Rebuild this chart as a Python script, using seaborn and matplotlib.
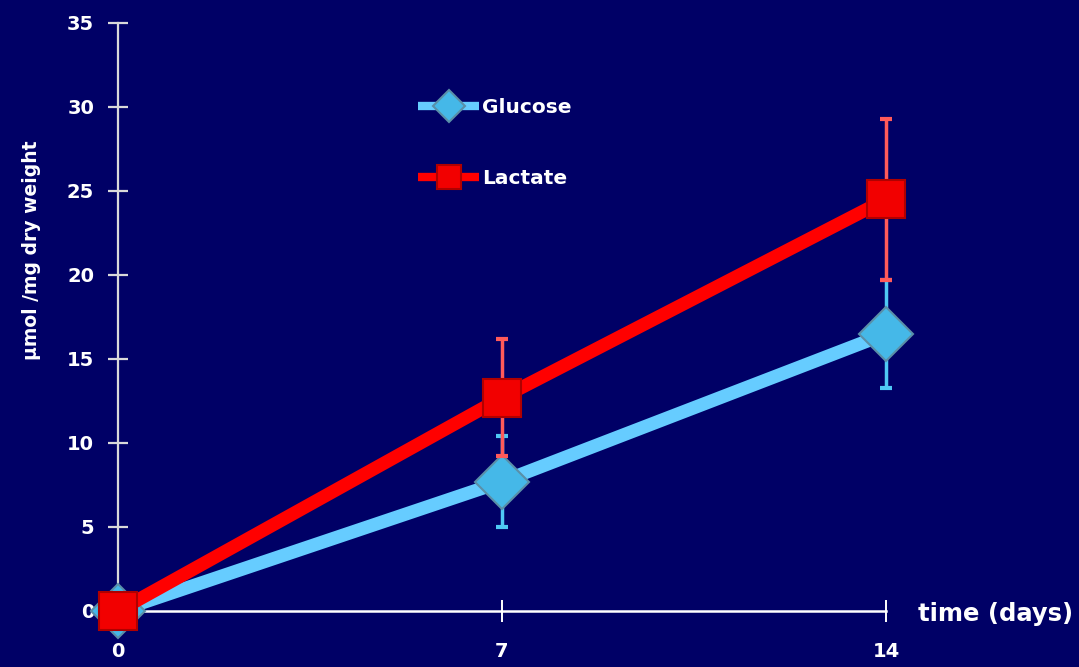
import matplotlib.pyplot as plt
import pandas as pd
import seaborn as sns

# values
days = [0, 7, 14]
glucose = [0, 7.7, 16.5]
glucose_err = [0, 2.7, 3.2]
lactate = [0, 12.7, 24.5]
lactate_err = [0, 3.5, 4.8]

bg = "#000066"
sns.set_style("dark")
plt.rcParams["font.family"] = ["DejaVu Sans"]
plt.rcParams["font.weight"] = "bold"

fig = plt.figure(figsize=(10.79, 6.67), dpi=100, facecolor=bg)
ax = fig.add_axes([118 / 1079, 56 / 667, 768 / 1079, 588 / 667])
ax.set_facecolor(bg)

df = pd.DataFrame({
    "day": days * 2,
    "value": glucose + lactate,
    "series": ["Glucose"] * 3 + ["Lactate"] * 3,
})

# error bars first so the lines and markers sit on top
ax.errorbar(days[1:], glucose[1:], yerr=glucose_err[1:], fmt="none",
            ecolor="#4FC8F5", elinewidth=2.5, capsize=4.5, capthick=3,
            zorder=2, clip_on=False)
ax.errorbar(days[1:], lactate[1:], yerr=lactate_err[1:], fmt="none",
            ecolor="#FF5A5A", elinewidth=2.5, capsize=4.5, capthick=3,
            zorder=4, clip_on=False)

sns.lineplot(data=df[df.series == "Glucose"], x="day", y="value", ax=ax,
             color="#66CCFF", linewidth=9.5, marker="D", markersize=28,
             markerfacecolor="#45B8E8", markeredgecolor="#5A8FA8",
             markeredgewidth=1.5, solid_capstyle="butt", zorder=3,
             clip_on=False, label="Glucose")
sns.lineplot(data=df[df.series == "Lactate"], x="day", y="value", ax=ax,
             color="#FF0000", linewidth=9.5, marker="s", markersize=28,
             markerfacecolor="#F20000", markeredgecolor="#B00000",
             markeredgewidth=1.5, solid_capstyle="butt", zorder=5,
             clip_on=False, label="Lactate")

ax.set_xlim(0, 14)
ax.set_ylim(0, 35)
ax.set_xticks(days)
ax.set_yticks(range(0, 36, 5))
ax.set_xlabel("")
ax.set_ylabel("")
ax.grid(False)

for side in ["top", "right"]:
    ax.spines[side].set_visible(False)
ax.spines["left"].set_visible(True)
ax.spines["left"].set_color("#D9D9D9")
ax.spines["left"].set_linewidth(1.6)
ax.spines["bottom"].set_visible(True)
ax.spines["bottom"].set_color("white")
ax.spines["bottom"].set_linewidth(1.8)

ax.tick_params(axis="y", left=True, direction="inout", length=14.4, width=1.6,
               color="#D9D9D9", pad=10, labelsize=14, labelcolor="white")
ax.tick_params(axis="x", bottom=True, direction="inout", length=16, width=1.4,
               color="white", pad=14, labelsize=14, labelcolor="white")
for lab in ax.get_xticklabels() + ax.get_yticklabels():
    lab.set_fontweight("bold")

leg = ax.legend(loc="upper left", bbox_to_anchor=(0.378, 0.89),
                frameon=False, fontsize=14.5, labelspacing=2.6,
                handlelength=3.0, handletextpad=0.15, markerscale=0.6,
                borderpad=0)
for t in leg.get_texts():
    t.set_color("white")
    t.set_fontweight("bold")
for h in leg.get_lines():
    h.set_linewidth(6)

fig.text(32 / 1079, 1 - 250 / 667, "µmol /mg dry weight", rotation=90,
         color="white", fontsize=13.5, fontweight="bold",
         ha="center", va="center")
fig.text(918 / 1079, 1 - 614 / 667, "time (days)", color="white",
         fontsize=17.5, fontweight="bold", ha="left", va="center")

fig.savefig("out.png", dpi=100, facecolor=bg)
